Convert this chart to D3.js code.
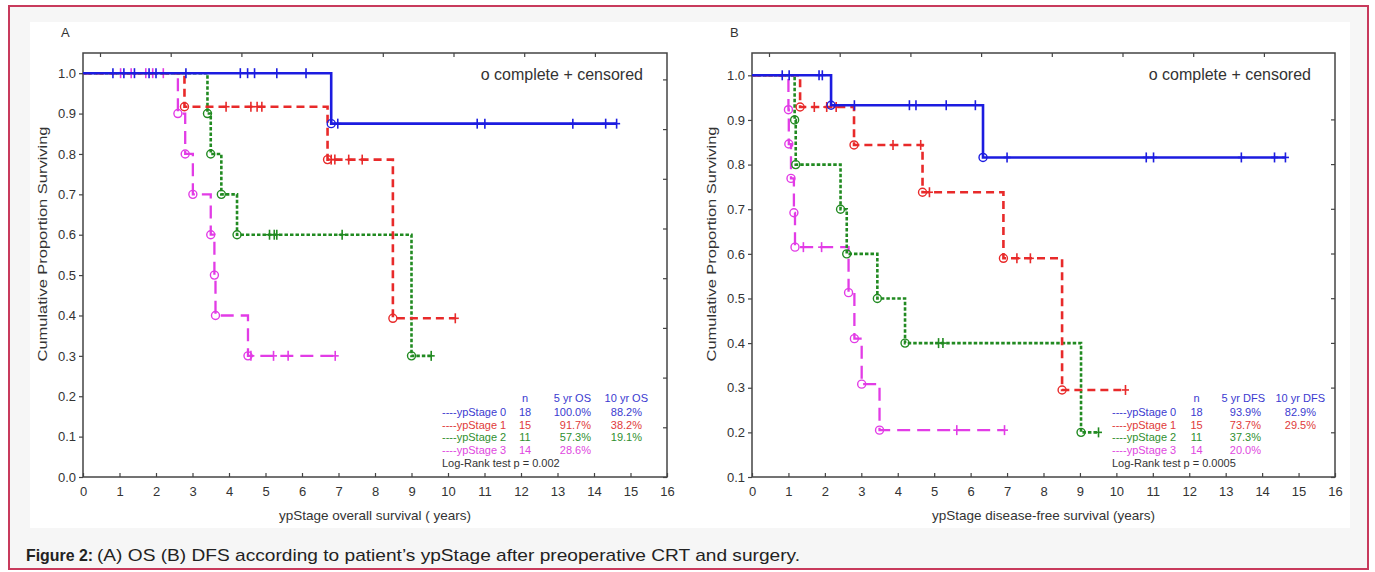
<!DOCTYPE html>
<html>
<head>
<meta charset="utf-8">
<script src="https://cdn.jsdelivr.net/npm/d3@7"></script>
<style>
  body { margin: 0; background: #fff; }
  svg { display: block; font-family: "Liberation Sans", Arial, sans-serif; }
</style>
</head>
<body>
<div id="chart"></div>
<script>
// legend table
const stages = ["ypStage 0", "ypStage 1", "ypStage 2", "ypStage 3"];
const nPatients = [18, 15, 11, 14];
const os5 = ["100.0%", "91.7%", "57.3%", "28.6%"];
const os10 = ["88.2%", "38.2%", "19.1%", ""];
const dfs5 = ["93.9%", "73.7%", "37.3%", "20.0%"];
const dfs10 = ["82.9%", "29.5%", "", ""];

// overall survival: [time, proportion after event], censored times
const osEvents = [
  [[6.8, 0.875]],
  [[2.78, 0.917], [6.70, 0.786], [8.49, 0.393]],
  [[3.41, 0.9], [3.5, 0.8], [3.79, 0.7], [4.22, 0.6], [9.0, 0.3]],
  [[2.6, 0.9], [2.8, 0.8], [3.01, 0.7], [3.5, 0.6], [3.6, 0.5], [3.63, 0.4], [4.52, 0.3]]
];
const osCensored = [
  [0.82, 1.12, 1.41, 1.81, 2.0, 2.82, 4.31, 4.51, 4.7, 5.31, 6.11, 6.98, 10.8, 11.01, 13.42, 14.32, 14.62],
  [3.92, 4.6, 4.77, 4.9, 6.8, 6.9, 7.28, 7.65, 10.2],
  [5.11, 5.24, 5.31, 7.1, 9.54],
  [1.03, 1.32, 1.72, 1.91, 2.2, 4.6, 5.22, 5.62, 6.91]
];

// disease-free survival
const dfsEvents = [
  [[2.17, 0.933], [6.34, 0.816]],
  [[1.32, 0.929], [2.80, 0.844], [4.68, 0.738], [6.9, 0.59], [8.51, 0.295]],
  [[1.17, 0.9], [1.2, 0.8], [2.43, 0.7], [2.6, 0.6], [3.44, 0.5], [4.2, 0.4], [9.03, 0.2]],
  [[1.0, 0.923], [1.01, 0.846], [1.07, 0.769], [1.15, 0.692], [1.18, 0.615], [2.65, 0.513], [2.81, 0.41], [3.01, 0.308], [3.5, 0.205]]
];
const dfsCensored = [
  [0.83, 1.02, 1.84, 1.93, 2.81, 4.32, 4.5, 5.33, 6.13, 7.0, 10.82, 11.02, 13.43, 14.34, 14.64],
  [1.71, 2.05, 2.31, 3.87, 4.63, 4.87, 7.27, 7.64, 10.25],
  [5.12, 5.24, 9.51],
  [1.41, 1.91, 5.62, 6.93]
];

const xTicks = d3.range(0, 17);
const osYTicks = d3.range(0, 11).map(d => d / 10);
const dfsYTicks = d3.range(1, 11).map(d => d / 10);

const colors = ["#1c1ce0", "#e82a2a", "#218a21", "#e23ce6"];
const textColors = ["#3a3ad0", "#e03a3a", "#2f8f2f", "#e048e0"];
const dashes = [null, "8,5", "3.5,2", "13,7"];
const widths = [2.6, 2.6, 2.6, 2.3];

var width = 1375, height = 572;

var svg = d3.select("#chart").append("svg")
  .attr("width", width)
  .attr("height", height);

// page frame
svg.append("rect")
  .attr("x", 9).attr("y", 6).attr("width", 1359).attr("height", 563)
  .attr("fill", "#f6f6f6").attr("stroke", "#c83a5c").attr("stroke-width", 2);
svg.append("rect")
  .attr("x", 30).attr("y", 22).attr("width", 1320).attr("height", 506)
  .attr("fill", "#fff");

function survAt(events, t) {
  let s = 1;
  events.forEach(e => { if (e[0] <= t) s = e[1]; });
  return s;
}

function drawPanel(p) {
  let x = d3.scaleLinear().domain([0, 16]).range([p.left, p.right]);
  let y = d3.scaleLinear().domain([p.yMin, 1.05]).range([p.bottom, p.top]);

  let g = svg.append("g");

  // axes
  g.append("g")
    .attr("transform", `translate(0,${p.bottom})`)
    .call(d3.axisBottom(x).tickValues(xTicks).tickSizeInner(-4).tickSizeOuter(0).tickPadding(10))
    .call(a => a.select(".domain").remove());

  g.append("g")
    .attr("transform", `translate(${p.left},0)`)
    .call(d3.axisLeft(y).tickValues(p.yTicks).tickFormat(d3.format(".1f")).tickSize(4).tickSizeOuter(0).tickPadding(3))
    .call(a => a.select(".domain").remove());

  // little ticks on the top and right frame
  let xTop = d3.scaleLinear().domain([0, 7]).range([p.topTick0, p.topTick0 + 7 * 70.7]);
  g.append("g")
    .attr("transform", `translate(0,${p.top})`)
    .call(d3.axisTop(xTop).ticks(7).tickFormat("").tickSizeInner(-4).tickSizeOuter(0))
    .call(a => a.select(".domain").remove());

  let yRight = d3.scaleLinear().domain([0, 8]).range([p.bottom, p.bottom - 8 * p.rightStep]);
  g.append("g")
    .attr("transform", `translate(${p.right},0)`)
    .call(d3.axisRight(yRight).ticks(8).tickFormat("").tickSizeInner(-4).tickSizeOuter(0))
    .call(a => a.select(".domain").remove());

  g.selectAll(".tick line").attr("stroke", "#444").attr("stroke-width", 1.2);
  g.selectAll(".tick text").attr("fill", "#333").style("font-size", "13px");

  g.append("rect")
    .attr("x", p.left).attr("y", p.top)
    .attr("width", p.right - p.left).attr("height", p.bottom - p.top)
    .attr("fill", "none").attr("stroke", "#444").attr("stroke-width", 1.5);

  // curves, drawn bottom series first
  let line = d3.line()
    .x(d => x(d[0]))
    .y(d => y(d[1]))
    .curve(d3.curveStepAfter);

  [3, 2, 1, 0].forEach(i => {
    let ev = p.events[i];
    let cens = p.censored[i];
    let tEnd = d3.max(cens);
    let pts = [[0, 1]].concat(ev).concat([[tEnd, survAt(ev, tEnd)]]);

    g.append("path")
      .datum(pts)
      .attr("d", line)
      .attr("fill", "none")
      .attr("stroke", colors[i])
      .attr("stroke-width", widths[i])
      .attr("stroke-dasharray", dashes[i]);

    g.selectAll(null)
      .data(ev)
      .enter()
      .append("circle")
      .attr("cx", d => x(d[0]))
      .attr("cy", d => y(d[1]))
      .attr("r", 4)
      .attr("fill", "none")
      .attr("stroke", colors[i])
      .attr("stroke-width", 1.4);

    let cg = g.selectAll(null)
      .data(cens)
      .enter()
      .append("g")
      .attr("transform", d => `translate(${x(d)},${y(survAt(ev, d))})`);
    cg.append("line")
      .attr("y1", -5).attr("y2", 5)
      .attr("stroke", colors[i]).attr("stroke-width", 1.6);
    cg.append("line")
      .attr("x1", -3.5).attr("x2", 3.5)
      .attr("stroke", colors[i]).attr("stroke-width", 1.6);
  });

  // labels
  g.append("text")
    .attr("x", p.left - 22).attr("y", 37)
    .attr("fill", "#333").style("font-size", "13px")
    .text(p.letter);

  g.append("text")
    .attr("x", p.right - 24).attr("y", 79.5)
    .attr("text-anchor", "end")
    .attr("fill", "#333").style("font-size", "16px")
    .text("o complete + censored");

  g.append("text")
    .attr("x", (p.left + p.right) / 2).attr("y", 520)
    .attr("text-anchor", "middle")
    .attr("fill", "#333").style("font-size", "13.5px")
    .text(p.xTitle);

  g.append("text")
    .attr("transform", `translate(${p.left - 36},244) rotate(-90)`)
    .attr("text-anchor", "middle")
    .attr("fill", "#333").style("font-size", "13.5px")
    .attr("textLength", 235).attr("lengthAdjust", "spacingAndGlyphs")
    .text("Cumulative Proportion Surviving");

  // legend table
  let lg = g.append("g").style("font-size", "11px");
  let rowY = [416, 428.5, 441, 454];
  lg.append("text").attr("x", p.nX).attr("y", 402).attr("text-anchor", "middle")
    .attr("fill", textColors[0]).text("n");
  lg.append("text").attr("x", p.c5Head).attr("y", 402).attr("text-anchor", "end")
    .attr("fill", textColors[0]).text(p.head5);
  lg.append("text").attr("x", p.c10Head).attr("y", 402).attr("text-anchor", "end")
    .attr("fill", textColors[0]).text(p.head10);

  stages.forEach((s, i) => {
    lg.append("text").attr("x", p.legX).attr("y", rowY[i])
      .attr("fill", textColors[i]).text("----" + s);
    lg.append("text").attr("x", p.nX).attr("y", rowY[i]).attr("text-anchor", "middle")
      .attr("fill", textColors[i]).text(nPatients[i]);
    lg.append("text").attr("x", p.c5).attr("y", rowY[i]).attr("text-anchor", "end")
      .attr("fill", textColors[i]).text(p.val5[i]);
    lg.append("text").attr("x", p.c10).attr("y", rowY[i]).attr("text-anchor", "end")
      .attr("fill", textColors[i]).text(p.val10[i]);
  });

  lg.append("text").attr("x", p.legX).attr("y", 466.5)
    .attr("fill", "#333").text(p.logRank);
}

drawPanel({
  letter: "A", left: 83, right: 667, top: 53, bottom: 477, yMin: 0, yTicks: osYTicks,
  events: osEvents, censored: osCensored, topTick0: 100, rightStep: 49.7,
  xTitle: "ypStage overall survival ( years)",
  legX: 442, nX: 525, c5Head: 591, c10Head: 648, c5: 591, c10: 642,
  head5: "5 yr  OS", head10: "10 yr OS", val5: os5, val10: os10,
  logRank: "Log-Rank test p = 0.002"
});

drawPanel({
  letter: "B", left: 752, right: 1335, top: 53, bottom: 477, yMin: 0.1, yTicks: dfsYTicks,
  events: dfsEvents, censored: dfsCensored, topTick0: 769, rightStep: 44.7,
  xTitle: "ypStage disease-free survival (years)",
  legX: 1112, nX: 1196.5, c5Head: 1265, c10Head: 1325, c5: 1261, c10: 1316,
  head5: "5 yr DFS", head10: "10 yr DFS", val5: dfs5, val10: dfs10,
  logRank: "Log-Rank test p = 0.0005"
});

// caption
svg.append("text")
  .attr("x", 26).attr("y", 561)
  .attr("fill", "#222").style("font-size", "17px").attr("font-weight", "bold")
  .attr("textLength", 67).attr("lengthAdjust", "spacingAndGlyphs")
  .text("Figure 2:");
svg.append("text")
  .attr("x", 97).attr("y", 561)
  .attr("fill", "#222").style("font-size", "17px")
  .attr("textLength", 703).attr("lengthAdjust", "spacingAndGlyphs")
  .text("(A) OS (B) DFS according to patient\u2019s ypStage after preoperative CRT and surgery.");
</script>
</body>
</html>
